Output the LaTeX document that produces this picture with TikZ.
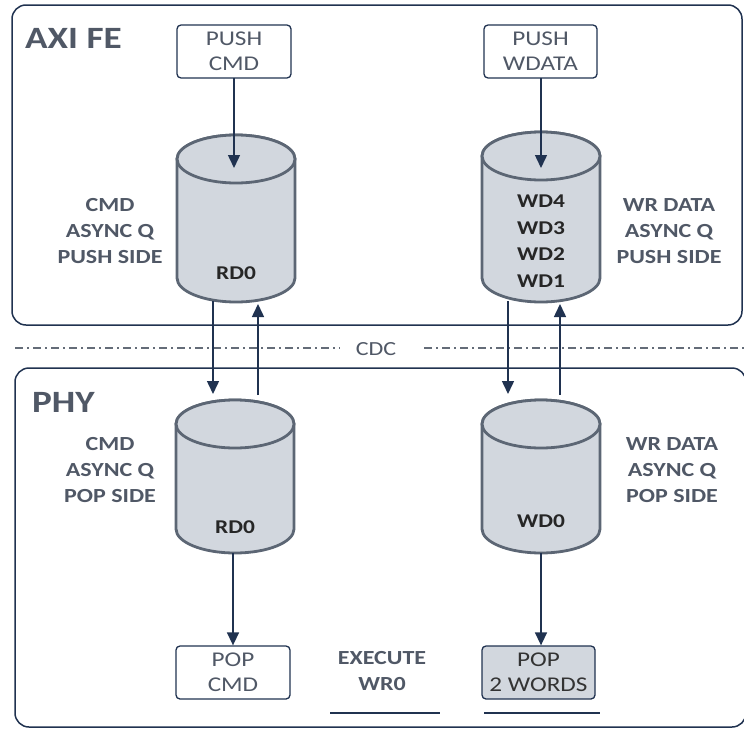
\documentclass[tikz,border=0pt]{standalone}
\usepackage{fontspec}
\setmainfont[FakeStretch=1.2]{Carlito}
\usetikzlibrary{arrows.meta}
\definecolor{navy}{RGB}{32,50,80}
\definecolor{lblgray}{RGB}{80,88,102}
\definecolor{cylfill}{RGB}{210,215,222}
\definecolor{cylline}{RGB}{92,102,116}
\definecolor{dashgray}{RGB}{100,108,120}
\tikzset{
 region/.style={draw=navy, line width=1.5pt, rounded corners=14pt},
 smallbox/.style={draw=navy, line width=1.3pt, rounded corners=4pt, minimum width=114pt, minimum height=53pt, inner sep=0pt, align=center, text=lblgray, font=\fontsize{21}{25}\selectfont},
 sidelabel/.style={align=center, text=lblgray, inner sep=0pt, font=\bfseries\fontsize{20}{26}\selectfont},
 titlelabel/.style={text=lblgray, inner sep=0pt, font=\bfseries\fontsize{31}{34}\selectfont},
 qlabel/.style={align=center, text=black!85, inner sep=0pt, font=\bfseries\fontsize{19.5}{26.5}\selectfont},
 flow/.style={draw=navy, line width=1.5pt, -{Triangle[width=12pt,length=13pt]}},
 cylstyle/.style={fill=cylfill, draw=cylline, line width=2.8pt},
 cdcline/.style={draw=dashgray, line width=1.5pt, dash pattern=on 8pt off 4pt on 2pt off 4pt},
 underline/.style={draw=navy, line width=2pt},
}
\newcommand{\qcyl}[4]{%
 \path[cylstyle] (#2-59,#3+24) -- (#2-59,#4-24)
   arc[start angle=180,end angle=360,x radius=59pt,y radius=24pt]
   -- (#2+59,#3+24)
   arc[start angle=0,end angle=180,x radius=59pt,y radius=24pt] -- cycle;
 \path[cylstyle] (#2,#3+24) ellipse [x radius=59pt,y radius=24pt];
 \node[inner sep=0pt, minimum width=118pt, minimum height={(#4-#3)*1pt}] (#1) at (#2,{(#3+#4)/2}) {};
}
\begin{document}
\begin{tikzpicture}[x=1pt,y=-1pt]
\useasboundingbox (0,0) rectangle (744,728);
% regions
\draw[region] (12,5) rectangle (742,325);
\draw[region] (15,368) rectangle (746,727);
% CDC
\node[text=lblgray, font=\fontsize{20}{24}\selectfont, inner sep=0pt] (cdc) at (376,349) {CDC};
\coordinate (cdcA) at (15,348);
\coordinate (cdcB) at (340,348);
\coordinate (cdcC) at (424,348);
\coordinate (cdcD) at (744,348);
\draw[cdcline] (cdcA) -- (cdcB);
\draw[cdcline] (cdcC) -- (cdcD);
% titles
\node[titlelabel, anchor=base west] (axife) at (25,48) {AXI FE};
\node[titlelabel, anchor=base west] (phy) at (32,412) {PHY};
% cylinders
\qcyl{c1}{236}{135}{302}
\qcyl{c2}{541}{132}{302}
\qcyl{c3}{235}{400}{553}
\qcyl{c4}{541}{400}{553}
% small boxes
\node[smallbox] (pushcmd) at (234,51.5) {PUSH\\CMD};
\node[smallbox, minimum width=113pt] (pushwd) at (540.5,51.5) {PUSH\\WDATA};
\node[smallbox] (popcmd) at (233,672.5) {POP\\CMD};
\node[smallbox, minimum width=113pt, fill=cylfill, text=black!80] (pop2) at (538.5,672.5) {POP\\2 WORDS};
% labels
\node[sidelabel] (l1) at (110,231) {CMD\\ASYNC Q\\PUSH SIDE};
\node[sidelabel] (l2) at (669,231) {WR DATA\\ASYNC Q\\PUSH SIDE};
\node[sidelabel] (l3) at (110,470) {CMD\\ASYNC Q\\POP SIDE};
\node[sidelabel] (l4) at (672,470) {WR DATA\\ASYNC Q\\POP SIDE};
\node[sidelabel] (exec) at (382,671) {EXECUTE\\WR0};
\node[qlabel] (q1) at (236,273) {RD0};
\node[qlabel] (q2) at (541,241) {WD4\\WD3\\WD2\\WD1};
\node[qlabel] (q3) at (235,527) {RD0};
\node[qlabel] (q4) at (541,521) {WD0};
% arrows
\coordinate (c1in) at (235,168);
\coordinate (c2in) at (541,168);
\draw[flow] (pushcmd.south |- 0,78) -- (pushcmd.south |- c1in);
\draw[flow] (c2in |- 0,78) -- (c2in);
\coordinate (d1s) at (213,301);
\coordinate (d1e) at (213,394);
\coordinate (u1s) at (258,395);
\coordinate (u1e) at (258,304);
\coordinate (d2s) at (508,301);
\coordinate (d2e) at (508,394);
\coordinate (u2s) at (560,395);
\coordinate (u2e) at (560,304);
\draw[flow] (d1s) -- (d1e);
\draw[flow] (u1s) -- (u1e);
\draw[flow] (d2s) -- (d2e);
\draw[flow] (u2s) -- (u2e);
\draw[flow] (popcmd.north |- c3.south) -- (popcmd.north);
\draw[flow] (c4.south) -- (c4.south |- pop2.north);
% underlines
\coordinate (ul1a) at (330,713);
\coordinate (ul1b) at (440,713);
\coordinate (ul2a) at (484,713);
\coordinate (ul2b) at (600,713);
\draw[underline] (ul1a) -- (ul1b);
\draw[underline] (ul2a) -- (ul2b);
\end{tikzpicture}
\end{document}
